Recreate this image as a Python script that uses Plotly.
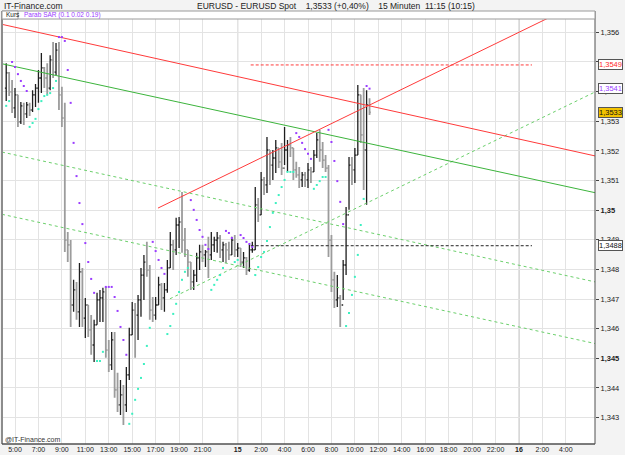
import plotly.graph_objects as go

# ---------------- data (EUR/USD, 15-minute bars, hours counted from 14th 00:00) ----------------
first_bar_hour = 4.25
bar_step_hours = 0.25

opens = [1.35412, 1.35463, 1.35399, 1.35345, 1.35389, 1.35298, 1.35352, 1.35325, 1.35355, 1.35338,
         1.35389, 1.35412, 1.35446, 1.35480, 1.35446, 1.35412, 1.35507, 1.35466, 1.35540, 1.35389,
         1.35311, 1.34899, 1.34883, 1.34680, 1.34731, 1.34657, 1.34792, 1.34636, 1.34680, 1.34596,
         1.34545, 1.34613, 1.34697, 1.34704, 1.34724, 1.34528, 1.34478, 1.34562, 1.34394, 1.34343,
         1.34377, 1.34343, 1.34444, 1.34579, 1.34663, 1.34646, 1.34697, 1.34781, 1.34825, 1.34798,
         1.34663, 1.34646, 1.34680, 1.34748, 1.34704, 1.34731, 1.34805, 1.34883, 1.34866, 1.34950,
         1.34960, 1.34899, 1.34866, 1.34825, 1.34758, 1.34781, 1.34839, 1.34859, 1.34849, 1.34859,
         1.34849, 1.34883, 1.34899, 1.34906, 1.34866, 1.34883, 1.34866, 1.34849, 1.34899, 1.34866,
         1.34872, 1.34825, 1.34839, 1.34798, 1.34866, 1.34866, 1.35018, 1.34984, 1.35102, 1.35085,
         1.35203, 1.35152, 1.35176, 1.35210, 1.35163, 1.35142, 1.35203, 1.35220, 1.35210, 1.35136,
         1.35119, 1.35102, 1.35119, 1.35102, 1.35136, 1.35129, 1.35186, 1.35237, 1.35203, 1.35169,
         1.35142, 1.34899, 1.34765, 1.34697, 1.34704, 1.34680, 1.34815, 1.34984, 1.35152, 1.35136,
         1.35186, 1.35389, 1.35254, 1.35203, 1.35355]

highs = [1.35496, 1.35466, 1.35439, 1.35412, 1.35389, 1.35365, 1.35362, 1.35365, 1.35362, 1.35405,
         1.35426, 1.35473, 1.35530, 1.35483, 1.35496, 1.35523, 1.35567, 1.35564, 1.35567, 1.35416,
         1.35362, 1.34926, 1.34899, 1.34765, 1.34758, 1.34822, 1.34805, 1.34704, 1.34680, 1.34646,
         1.34630, 1.34721, 1.34731, 1.34738, 1.34741, 1.34562, 1.34589, 1.34589, 1.34451, 1.34427,
         1.34410, 1.34471, 1.34603, 1.34690, 1.34687, 1.34714, 1.34805, 1.34849, 1.34893, 1.34815,
         1.34707, 1.34707, 1.34775, 1.34754, 1.34754, 1.34832, 1.34926, 1.34899, 1.34974, 1.34977,
         1.35061, 1.34940, 1.34866, 1.34825, 1.34798, 1.34856, 1.34883, 1.34883, 1.34866, 1.34910,
         1.34926, 1.34910, 1.34926, 1.34916, 1.34893, 1.34889, 1.34893, 1.34910, 1.34916, 1.34889,
         1.34872, 1.34859, 1.34842, 1.34883, 1.34893, 1.35078, 1.35041, 1.35129, 1.35112, 1.35247,
         1.35203, 1.35203, 1.35237, 1.35210, 1.35227, 1.35281, 1.35237, 1.35247, 1.35210, 1.35163,
         1.35146, 1.35129, 1.35129, 1.35159, 1.35146, 1.35203, 1.35260, 1.35271, 1.35230, 1.35186,
         1.35152, 1.34916, 1.34792, 1.34781, 1.34714, 1.34832, 1.35011, 1.35179, 1.35179, 1.35210,
         1.35422, 1.35389, 1.35412, 1.35405, 1.35378]

lows = [1.35368, 1.35385, 1.35328, 1.35311, 1.35281, 1.35291, 1.35287, 1.35311, 1.35318, 1.35331,
        1.35348, 1.35362, 1.35395, 1.35412, 1.35389, 1.35405, 1.35446, 1.35456, 1.35338, 1.35281,
        1.34859, 1.34825, 1.34606, 1.34657, 1.34630, 1.34606, 1.34606, 1.34569, 1.34572, 1.34512,
        1.34488, 1.34613, 1.34623, 1.34623, 1.34502, 1.34454, 1.34461, 1.34367, 1.34319, 1.34309,
        1.34275, 1.34319, 1.34427, 1.34579, 1.34502, 1.34562, 1.34640, 1.34697, 1.34775, 1.34630,
        1.34623, 1.34630, 1.34680, 1.34663, 1.34657, 1.34721, 1.34805, 1.34798, 1.34849, 1.34872,
        1.34856, 1.34842, 1.34775, 1.34731, 1.34731, 1.34758, 1.34798, 1.34825, 1.34808, 1.34771,
        1.34832, 1.34859, 1.34856, 1.34839, 1.34825, 1.34822, 1.34832, 1.34849, 1.34842, 1.34842,
        1.34808, 1.34805, 1.34781, 1.34792, 1.34856, 1.34866, 1.34960, 1.34984, 1.35051, 1.35058,
        1.35085, 1.35102, 1.35125, 1.35142, 1.35119, 1.35152, 1.35129, 1.35179, 1.35102, 1.35109,
        1.35075, 1.35078, 1.35078, 1.35075, 1.35092, 1.35129, 1.35176, 1.35163, 1.35142, 1.35129,
        1.34842, 1.34724, 1.34670, 1.34673, 1.34606, 1.34697, 1.34781, 1.35001, 1.35085, 1.35092,
        1.35186, 1.35227, 1.35068, 1.35018, 1.35321]

closes = [1.35463, 1.35399, 1.35345, 1.35389, 1.35298, 1.35352, 1.35325, 1.35355, 1.35338, 1.35389,
          1.35412, 1.35446, 1.35480, 1.35446, 1.35412, 1.35507, 1.35466, 1.35540, 1.35389, 1.35311,
          1.34899, 1.34883, 1.34680, 1.34731, 1.34657, 1.34792, 1.34636, 1.34680, 1.34596, 1.34545,
          1.34613, 1.34697, 1.34704, 1.34724, 1.34528, 1.34478, 1.34562, 1.34394, 1.34343, 1.34377,
          1.34343, 1.34444, 1.34579, 1.34663, 1.34646, 1.34697, 1.34781, 1.34825, 1.34798, 1.34663,
          1.34646, 1.34680, 1.34748, 1.34704, 1.34731, 1.34805, 1.34883, 1.34866, 1.34950, 1.34960,
          1.34899, 1.34866, 1.34825, 1.34758, 1.34781, 1.34839, 1.34859, 1.34849, 1.34859, 1.34849,
          1.34883, 1.34899, 1.34906, 1.34866, 1.34883, 1.34866, 1.34849, 1.34899, 1.34866, 1.34872,
          1.34825, 1.34839, 1.34798, 1.34866, 1.34866, 1.35018, 1.34984, 1.35102, 1.35085, 1.35203,
          1.35152, 1.35176, 1.35210, 1.35163, 1.35142, 1.35203, 1.35220, 1.35210, 1.35136, 1.35119,
          1.35102, 1.35119, 1.35102, 1.35136, 1.35129, 1.35186, 1.35237, 1.35203, 1.35169, 1.35142,
          1.34899, 1.34765, 1.34697, 1.34704, 1.34680, 1.34815, 1.34984, 1.35152, 1.35136, 1.35186,
          1.35389, 1.35254, 1.35203, 1.35355, 1.35330]

# Parabolic SAR (0.1 0.02 0.19), one value per bar
sar = [1.35352, 1.35368, 1.35500, 1.35483, 1.35459, 1.35436, 1.35419, 1.35402, 1.35281, 1.35294,
       1.35308, 1.35341, 1.35368, 1.35385, 1.35389, 1.35395, 1.35412, 1.35436, 1.35584, 1.35584,
       1.35571, 1.35473, 1.35362, 1.35227, 1.35115, 1.35024, 1.34953, 1.34889, 1.34825, 1.34768,
       1.34721, 1.34491, 1.34491, 1.34522, 1.34741, 1.34741, 1.34741, 1.34707, 1.34660, 1.34606,
       1.34562, 1.34512, 1.34279, 1.34313, 1.34360, 1.34397, 1.34434, 1.34481, 1.34542, 1.34603,
       1.34893, 1.34862, 1.34832, 1.34805, 1.34785, 1.34582, 1.34609, 1.34650, 1.34684, 1.34724,
       1.34765, 1.34792, 1.34805, 1.35034, 1.35001, 1.34967, 1.34933, 1.34910, 1.34883, 1.34869,
       1.34731, 1.34748, 1.34765, 1.34781, 1.34805, 1.34930, 1.34923, 1.34906, 1.34825, 1.34832,
       1.34916, 1.34906, 1.34893, 1.34886, 1.34876, 1.34781, 1.34808, 1.34842, 1.34859, 1.34896,
       1.34943, 1.34991, 1.35024, 1.35051, 1.35078, 1.35102, 1.35129, 1.35129, 1.35129, 1.35260,
       1.35247, 1.35227, 1.35206, 1.35190, 1.35173, 1.35072, 1.35085, 1.35098, 1.35112, 1.35112,
       1.35271, 1.35230, 1.35166, 1.35098, 1.35028, 1.34953, 1.34609, 1.34653, 1.34714, 1.34775,
       1.34849, 1.34950, 1.35038, 1.35419, 1.35410]

# trend lines: [start hour, end hour], [start price, end price]
red_fall_x = [3.89, 54.49]
red_fall_y = [1.35627, 1.35183]
red_rise_x = [17.20, 50.48]
red_rise_y = [1.35007, 1.35648]
green_mid_x = [3.89, 54.49]
green_mid_y = [1.35494, 1.35059]
green_upper_x = [3.89, 54.49]
green_upper_y = [1.35196, 1.34758]
green_lower_x = [3.89, 54.49]
green_lower_y = [1.34986, 1.34550]
green_rise_x = [18.22, 54.40]
green_rise_y = [1.34701, 1.35397]

# horizontal levels
level_red = 1.3549
level_black = 1.3488
level_x = [25.11, 49.11]
sar_last = 1.3541
last_price = 1.3533

# axes
x_tick_vals = [5, 7, 9, 11, 13, 15, 17, 19, 21, 24, 26, 28, 30, 32, 34, 36, 38, 40, 42, 44, 46, 48, 50, 52]
x_tick_text = ["5:00", "7:00", "9:00", "11:00", "13:00", "15:00", "17:00", "19:00", "21:00", "<b>15</b>",
               "2:00", "4:00", "6:00", "8:00", "10:00", "12:00", "14:00", "16:00", "18:00", "20:00",
               "22:00", "<b>16</b>", "2:00", "4:00"]
day_lines = [24, 48]
y_tick_vals = [1.343, 1.344, 1.345, 1.346, 1.347, 1.348, 1.349, 1.350, 1.351, 1.352, 1.353, 1.354, 1.355, 1.356]
y_tick_text = ["1,343", "1,344", "<b>1,345</b>", "1,346", "1,347", "1,348", "1,349", "<b>1,35</b>",
               "1,351", "1,352", "1,353", "1,354", "1,355", "1,356"]

# ---------------- figure ----------------
W, H = 625, 455
ML, MR, MT, MB = 2, 30, 19, 11
x_range = [3.891, 54.488]
y_range = [1.34211, 1.35645]

def px_x(px):
    return (px - ML) / (W - ML - MR)

def px_y(py):
    return (H - MB - py) / (H - MT - MB)

FONT = "Liberation Sans, Arial, sans-serif"
PURPLE = "#9a3cff"
CYAN = "#3cf0c0"

bar_hours = [first_bar_hour + bar_step_hours * i for i in range(len(closes))]

fig = go.Figure()

def line(xs, ys, color, dash="solid", width=1):
    fig.add_trace(go.Scatter(x=xs, y=ys, mode="lines", line=dict(color=color, width=width, dash=dash),
                             hoverinfo="skip", showlegend=False))

line(green_upper_x, green_upper_y, "#6cd06c", "dot")
line(green_lower_x, green_lower_y, "#6cd06c", "dot")
line(green_rise_x, green_rise_y, "#6cd06c", "dot")
line(green_mid_x, green_mid_y, "#3cb43c")
line(red_fall_x, red_fall_y, "#ff3a3a")
line(red_rise_x, red_rise_y, "#ff3a3a")
line(level_x, [level_red, level_red], "#ff3a3a", "3px,2px")
line(level_x, [level_black, level_black], "#222222", "3px,2px")

fig.add_trace(go.Ohlc(
    x=bar_hours, open=opens, high=highs, low=lows, close=closes,
    increasing=dict(line=dict(color="#1e1e1e", width=1.3)),
    decreasing=dict(line=dict(color="#9c9c9c", width=1.8)),
    tickwidth=0.45, showlegend=False, hoverinfo="skip"))

sar_colors = [PURPLE if s > c else CYAN for s, c in zip(sar, closes)]
fig.add_trace(go.Scatter(x=bar_hours, y=sar, mode="markers",
                         marker=dict(symbol="square", size=2, color=sar_colors, line=dict(width=0)),
                         hoverinfo="skip", showlegend=False))

shapes = []
for d in day_lines:
    shapes.append(dict(type="line", xref="x", yref="paper", x0=d, x1=d, y0=0, y1=1,
                       line=dict(color="#a9a9a9", width=1), layer="below"))
shapes.append(dict(type="line", xref="paper", yref="paper", x0=0, x1=0, y0=0, y1=px_y(11),
                   line=dict(color="#8c8c8c", width=2)))
shapes.append(dict(type="line", xref="paper", yref="paper", x0=1, x1=1, y0=0, y1=px_y(11),
                   line=dict(color="#505050", width=1)))
shapes.append(dict(type="line", xref="paper", yref="paper", x0=0, x1=1, y0=0, y1=0,
                   line=dict(color="#505050", width=1.5)))
shapes.append(dict(type="rect", xref="paper", yref="paper", x0=0, x1=1, y0=px_y(19), y1=px_y(11),
                   fillcolor="white", line=dict(color="#9a9a9a", width=1)))
shapes.append(dict(type="rect", xref="paper", yref="paper", x0=px_x(2), x1=px_x(18), y0=px_y(19), y1=px_y(11),
                   fillcolor="white", line=dict(color="#9a9a9a", width=1)))

annotations = [
    dict(text="IT-Finance.com", x=px_x(2), y=px_y(5.5), xref="paper", yref="paper", xanchor="left",
         yanchor="middle", showarrow=False, font=dict(family=FONT, size=8.5, color="#222222")),
    dict(text="EURUSD - EURUSD Spot&#160;&#160;&#160;&#160;1,3533 (+0,40%)&#160;&#160;&#160;&#160;15 Minuten&#160;&#160;11:15 (10:15)",
         x=px_x(336), y=px_y(5.5), xref="paper", yref="paper", xanchor="center", yanchor="middle",
         showarrow=False, font=dict(family=FONT, size=8.5, color="#222222")),
    dict(text="Kurs", x=px_x(3.5), y=px_y(15), xref="paper", yref="paper", xanchor="left", yanchor="middle",
         showarrow=False, font=dict(family=FONT, size=6.5, color="#222222")),
    dict(text="Parab SAR (0.1 0.02 0.19)", x=px_x(22), y=px_y(15), xref="paper", yref="paper",
         xanchor="left", yanchor="middle", showarrow=False, font=dict(family=FONT, size=6.5, color=PURPLE)),
    dict(text="@IT-Finance.com", x=px_x(3), y=px_y(439), xref="paper", yref="paper", xanchor="left",
         yanchor="middle", showarrow=False, font=dict(family=FONT, size=7, color="#333333")),
]

def level_box(value, text_color, bg):
    annotations.append(dict(text=f"{value:.4f}".replace(".", ","), x=1, xshift=3, y=value, xref="paper",
                            yref="y", xanchor="left", yanchor="middle", showarrow=False,
                            font=dict(family=FONT, size=7.5, color=text_color), bgcolor=bg,
                            bordercolor="#555555", borderwidth=1, borderpad=0))

level_box(level_red, "#ff2a2a", "white")
level_box(sar_last, PURPLE, "white")
level_box(last_price, "#111111", "#f2c200")
level_box(level_black, "#111111", "white")

fig.update_layout(
    width=W, height=H,
    margin=dict(l=ML, r=MR, t=MT, b=MB, pad=0),
    paper_bgcolor="#f3f3f3", plot_bgcolor="white",
    showlegend=False,
    shapes=shapes, annotations=annotations,
    font=dict(family=FONT, size=7.5, color="#222222"),
    xaxis=dict(range=x_range, tickmode="array", tickvals=x_tick_vals, ticktext=x_tick_text,
               showgrid=True, gridcolor="#e3e3e3", gridwidth=1, zeroline=False, ticks="",
               tickfont=dict(family=FONT, size=7, color="#222222"), rangeslider=dict(visible=False),
               showline=False, fixedrange=True),
    yaxis=dict(range=y_range, side="right", tickmode="array", tickvals=y_tick_vals, ticktext=y_tick_text,
               showgrid=True, gridcolor="#e3e3e3", gridwidth=1, zeroline=False, ticks="outside",
               ticklen=3, tickcolor="#444444", tickfont=dict(family=FONT, size=7.5, color="#222222"),
               showline=False, fixedrange=True),
)

fig.write_html("out.html", config={"displayModeBar": False})
